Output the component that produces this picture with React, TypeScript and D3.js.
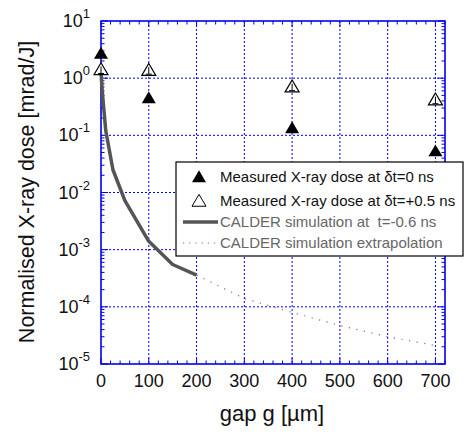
import React from "react";
import * as d3 from "d3";

const xTicks = [0, 100, 200, 300, 400, 500, 600, 700];
const yExps = [1, 0, -1, -2, -3, -4, -5];

const gapMeasured = [0, 100, 400, 700];
const doseDt0 = [2.7, 0.45, 0.135, 0.053];
const doseDt05 = [1.42, 1.38, 0.71, 0.42];

const simGap = [0, 2, 5, 10, 25, 50, 100, 150, 200];
const simDose = [1.3, 0.7, 0.35, 0.12, 0.025, 0.0072, 0.0014, 0.00055, 0.00036];

const extGap = [200, 300, 400, 500, 600, 700];
const extDose = [0.00036, 0.00014, 0.00008, 0.000047, 0.00003, 0.000021];

const legendLabels = [
  "Measured X-ray dose at \u03b4t=0 ns",
  "Measured X-ray dose at \u03b4t=+0.5 ns",
  "CALDER simulation at \u00a0t=-0.6 ns",
  "CALDER simulation extrapolation",
];

const W = 464, H = 436;
const L = 101, R = 445, T = 21, B = 364;
const BLUE = "#0000ee";
const FONT = "Liberation Sans, Arial, sans-serif";

export default function App() {
  const x = d3.scaleLinear().domain([0, 720]).range([L, R]);
  const y = d3.scaleLog().domain([1e-5, 10]).range([B, T]);

  const simLine = d3.line<number>().x((_, i) => x(simGap[i])).y((d) => y(d));
  const extLine = d3.line<number>().x((_, i) => x(extGap[i])).y((d) => y(d));

  const tri = (cx: number, cy: number, s = 7) =>
    `M${cx},${cy - s * 0.95}L${cx + s},${cy + s * 0.75}L${cx - s},${cy + s * 0.75}Z`;

  const xMinor = d3.range(0, 721, 20);
  const yMinor: number[] = [];
  for (let e = -5; e < 1; e++) for (let m = 2; m <= 9; m++) yMinor.push(m * Math.pow(10, e));

  const legX = 176, legY = 162, legW = 287, legH = 94;
  const rowY = [177, 201, 222, 243];

  return (
    <svg width={W} height={H} style={{ position: "absolute", left: 0, top: 0, fontFamily: FONT }}>
      <rect width={W} height={H} fill="#fff" />
      {/* grid */}
      {xTicks.slice(1).map((t) => (
        <line key={"gx" + t} x1={x(t)} x2={x(t)} y1={T} y2={B} stroke={BLUE} strokeWidth={1} strokeDasharray="2,2" />
      ))}
      {yExps.slice(1, -1).map((e) => (
        <line key={"gy" + e} x1={L} x2={R} y1={y(Math.pow(10, e))} y2={y(Math.pow(10, e))} stroke={BLUE} strokeWidth={1} strokeDasharray="2,2" />
      ))}
      {/* minor ticks */}
      {xMinor.map((t) => {
        const major = t % 100 === 0;
        const len = major ? 6 : 3.5;
        return (
          <g key={"xm" + t}>
            <line x1={x(t)} x2={x(t)} y1={B} y2={B - len} stroke={BLUE} strokeWidth={1} />
            <line x1={x(t)} x2={x(t)} y1={T} y2={T + len} stroke={BLUE} strokeWidth={1} />
          </g>
        );
      })}
      {yMinor.map((v, i) => (
        <g key={"ym" + i}>
          <line x1={L} x2={L + 3.5} y1={y(v)} y2={y(v)} stroke={BLUE} strokeWidth={1} />
          <line x1={R} x2={R - 3.5} y1={y(v)} y2={y(v)} stroke={BLUE} strokeWidth={1} />
        </g>
      ))}
      {yExps.map((e) => (
        <g key={"yM" + e}>
          <line x1={L} x2={L + 7} y1={y(Math.pow(10, e))} y2={y(Math.pow(10, e))} stroke={BLUE} strokeWidth={1} />
          <line x1={R} x2={R - 7} y1={y(Math.pow(10, e))} y2={y(Math.pow(10, e))} stroke={BLUE} strokeWidth={1} />
        </g>
      ))}
      {/* frame */}
      <rect x={L} y={T} width={R - L} height={B - T} fill="none" stroke={BLUE} strokeWidth={1.6} />

      {/* simulation */}
      <path d={extLine(extDose) || ""} fill="none" stroke="#777" strokeWidth={1.2} strokeDasharray="1.2,6.5" />
      <path d={simLine(simDose) || ""} fill="none" stroke="#555" strokeWidth={3.5} strokeLinejoin="round" />

      {/* measured */}
      {doseDt05.map((d, i) => {
        const cx = x(gapMeasured[i]), cy = y(d);
        return (
          <g key={"o" + i}>
            <path d={tri(cx, cy)} fill="#fff" stroke="#000" strokeWidth={1.2} />
            <line x1={cx} x2={cx} y1={cy - 3} y2={cy + 4} stroke="#000" strokeWidth={1} />
            <line x1={cx - 3} x2={cx + 3} y1={cy + 4} y2={cy + 4} stroke="#000" strokeWidth={1} />
          </g>
        );
      })}
      {doseDt0.map((d, i) => (
        <path key={"f" + i} d={tri(x(gapMeasured[i]), y(d))} fill="#000" />
      ))}

      {/* x tick labels */}
      {xTicks.map((t) => (
        <text key={"xl" + t} x={x(t)} y={387} textAnchor="middle" fontSize={18} fill="#111">{t}</text>
      ))}
      {/* y tick labels */}
      {yExps.map((e) => (
        <text key={"yl" + e} x={90} y={y(Math.pow(10, e)) + 6} textAnchor="end" fontSize={18} fill="#111">
          10<tspan dy={-9} fontSize={13}>{e}</tspan>
        </text>
      ))}
      {/* axis titles */}
      <text x={272} y={421} textAnchor="middle" fontSize={22} fill="#111">gap g [µm]</text>
      <text transform={`translate(34,192) rotate(-90)`} textAnchor="middle" fontSize={21.5} fill="#111">
        Normalised X-ray dose [mrad/J]
      </text>

      {/* legend */}
      <rect x={legX} y={legY} width={legW} height={legH} fill="#fff" stroke="#000" strokeWidth={1.2} />
      <path d={tri(199, rowY[0])} fill="#000" />
      <path d={tri(199, rowY[1])} fill="#fff" stroke="#000" strokeWidth={1} />
      <line x1={183} x2={218} y1={rowY[2]} y2={rowY[2]} stroke="#555" strokeWidth={3.5} />
      <line x1={183} x2={218} y1={rowY[3]} y2={rowY[3]} stroke="#777" strokeWidth={1.2} strokeDasharray="1.2,5" />
      {legendLabels.map((s, i) => (
        <text key={"lg" + i} x={220} y={rowY[i] + 5} fontSize={15} fill={i < 2 ? "#111" : "#666"}>{s}</text>
      ))}
    </svg>
  );
}
